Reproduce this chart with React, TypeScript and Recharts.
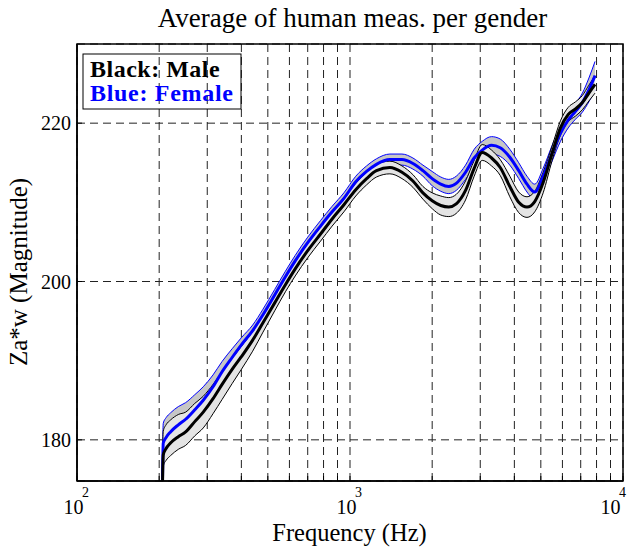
import React from 'react';
import { ComposedChart, Line, Area, XAxis, YAxis, CartesianGrid, ReferenceArea } from 'recharts';

const FONT = '"Liberation Serif", "Times New Roman", Times, serif';

// ---- data ----
const freqs = [205, 207, 212, 220, 235, 250, 270, 290, 315, 340, 370, 400, 440, 480, 530, 580, 630, 700, 780, 860, 950, 1050, 1150, 1250, 1400, 1550, 1700, 1850, 2000, 2150, 2300, 2450, 2650, 2850, 3050, 3300, 3550, 3850, 4150, 4450, 4750, 5100, 5500, 5900, 6300, 6700, 7100, 7500, 7900];

const maleMean = [171.0, 178.1, 178.9, 179.6, 180.4, 181.0, 182.3, 183.5, 185.2, 187.0, 188.9, 190.5, 192.6, 194.8, 197.3, 199.6, 201.6, 203.9, 206.0, 207.9, 209.7, 211.6, 213.0, 214.0, 214.4, 213.8, 212.7, 211.2, 210.2, 209.6, 209.4, 209.8, 211.5, 214.3, 216.3, 215.6, 214.4, 212.0, 210.0, 209.4, 210.1, 212.5, 216.2, 219.4, 221.1, 221.8, 222.6, 223.8, 224.9];
const maleLow = [169.5, 176.7, 177.4, 178.0, 178.8, 179.3, 180.5, 181.5, 183.3, 185.1, 187.1, 188.9, 191.2, 193.6, 196.3, 198.7, 200.7, 203.0, 205.1, 207.0, 208.8, 210.8, 212.2, 213.2, 213.6, 213.0, 211.9, 210.4, 209.2, 208.4, 208.2, 208.6, 210.3, 213.3, 215.3, 214.6, 213.4, 210.7, 208.7, 208.1, 208.8, 211.2, 215.3, 218.5, 220.2, 220.9, 221.7, 222.8, 223.8];
const maleHigh = [174.0, 181.1, 181.9, 182.5, 183.2, 183.5, 184.6, 185.5, 187.0, 188.6, 190.3, 191.8, 193.7, 195.8, 198.2, 200.5, 202.5, 204.8, 206.9, 208.8, 210.6, 212.4, 213.8, 214.8, 215.2, 214.6, 213.5, 212.0, 211.2, 210.8, 210.6, 211.0, 212.7, 215.3, 217.3, 216.6, 215.4, 213.3, 211.3, 210.7, 211.4, 213.8, 217.1, 220.3, 222.0, 222.7, 223.5, 224.8, 226.0];

const femaleMean = [171.0, 179.6, 180.3, 181.0, 181.9, 182.6, 183.8, 185.0, 186.7, 188.6, 190.4, 192.0, 193.8, 195.8, 198.3, 200.6, 202.6, 204.9, 207.0, 208.8, 210.5, 212.6, 213.9, 214.8, 215.4, 215.4, 214.9, 214.0, 213.0, 212.3, 212.0, 212.4, 213.8, 215.6, 216.6, 217.2, 216.9, 215.7, 214.0, 212.3, 211.3, 213.3, 216.2, 218.7, 220.4, 221.5, 222.6, 224.2, 226.0];
const femaleLow = [169.5, 178.1, 178.8, 179.5, 180.5, 181.3, 182.6, 183.9, 185.7, 187.7, 189.6, 191.2, 193.1, 195.1, 197.6, 199.9, 201.9, 204.2, 206.3, 208.1, 209.8, 211.9, 213.2, 214.1, 214.7, 214.7, 214.2, 213.3, 212.1, 211.4, 211.1, 211.5, 212.9, 214.5, 215.5, 216.1, 215.8, 214.7, 213.0, 211.3, 210.3, 212.3, 215.2, 217.7, 219.4, 220.5, 221.4, 222.7, 224.2];
const femaleHigh = [173.5, 182.1, 182.8, 183.4, 184.2, 184.7, 185.7, 186.7, 188.2, 189.9, 191.5, 192.9, 194.5, 196.5, 199.0, 201.3, 203.3, 205.6, 207.7, 209.5, 211.2, 213.3, 214.6, 215.5, 216.1, 216.1, 215.6, 214.7, 213.9, 213.2, 212.9, 213.3, 214.7, 216.7, 217.7, 218.3, 218.0, 216.7, 215.0, 213.3, 212.3, 214.3, 217.2, 219.7, 221.4, 222.5, 223.8, 225.7, 227.8];

const xGridTicks = [100, 200, 300, 400, 500, 600, 700, 800, 900, 1000, 2000, 3000, 4000, 5000, 6000, 7000, 8000, 9000, 10000];
const decadeTicks = [100, 1000, 10000];
const decadeBase = '10';
const decadeExponents = ['2', '3', '4'];
const decadeLabelShift = [0, 0, -9];
const yTicks = [180, 200, 220];
const yDomain = [174.8, 230];
const xDomain = [100, 10000];

const title = 'Average of human meas. per gender';
const xLabel = 'Frequency (Hz)';
const yLabel = 'Za*w (Magnitude)';
const legendMale = 'Black: Male';
const legendFemale = 'Blue: Female';

const data = freqs.map((f, i) => ({
  f,
  male: maleMean[i],
  maleBand: [maleLow[i], maleHigh[i]],
  female: femaleMean[i],
  femaleBand: [femaleLow[i], femaleHigh[i]],
}));

const W = 627;
const H = 542;

const XTick = (props: any) => {
  const { x, y, payload } = props;
  const idx = decadeTicks.indexOf(payload.value);
  const lx = idx >= 0 ? x + decadeLabelShift[idx] : x;
  return (
    <g>
      <line x1={x} x2={x} y1={y} y2={y - 5} stroke="#000" strokeWidth={1} />
      {idx >= 0 && (
        <g>
          <text x={lx - 3.5} y={y + 33} textAnchor="middle" fontFamily={FONT} fontSize={20} fill="#000">
            {decadeBase}
          </text>
          <text x={lx + 8.5} y={y + 16} textAnchor="middle" fontFamily={FONT} fontSize={14} fill="#000">
            {decadeExponents[idx]}
          </text>
        </g>
      )}
    </g>
  );
};

const YTick = (props: any) => {
  const { x, y, payload } = props;
  return (
    <g>
      <line x1={x + 6} x2={x + 11} y1={y} y2={y} stroke="#000" strokeWidth={1} />
      <text x={x} y={y} dy="0.35em" textAnchor="end" fontFamily={FONT} fontSize={20} fill="#000">
        {payload.value}
      </text>
    </g>
  );
};

export default function App() {
  return (
    <div style={{ position: 'relative', width: W, height: H, background: '#fff', fontFamily: FONT }}>
      <style>{`.recharts-surface { overflow: visible; } .recharts-wrapper { overflow: visible; }`}</style>
      <ComposedChart width={W} height={H} data={data} margin={{ top: 36, right: 12, bottom: 0, left: 0 }}>
        <CartesianGrid stroke="#222" strokeDasharray="8 5" strokeWidth={1} />
        <XAxis
          dataKey="f"
          type="number"
          scale="log"
          domain={xDomain}
          ticks={xGridTicks}
          interval={0}
          allowDataOverflow
          height={69}
          tickSize={0}
          tickMargin={0}
          tickLine={false}
          axisLine={{ stroke: '#000', strokeWidth: 1.5 }}
          tick={<XTick />}
        />
        <YAxis
          type="number"
          domain={yDomain}
          ticks={yTicks}
          interval={0}
          allowDataOverflow
          width={69}
          tickSize={0}
          tickMargin={6}
          tickLine={false}
          axisLine={{ stroke: '#000', strokeWidth: 1.5 }}
          tick={<YTick />}
        />
        <Area
          dataKey="femaleBand"
          type="monotoneX"
          fill="#c6c6c6"
          fillOpacity={1}
          stroke="#0000ff"
          strokeWidth={1}
          dot={false}
          activeDot={false}
          isAnimationActive={false}
        />
        <Area
          dataKey="maleBand"
          type="monotoneX"
          fill="#e4e4e4"
          fillOpacity={1}
          stroke="#000"
          strokeWidth={1}
          dot={false}
          activeDot={false}
          isAnimationActive={false}
        />
        <Line dataKey="female" type="monotoneX" stroke="#0000ff" strokeWidth={3} dot={false} activeDot={false} isAnimationActive={false} />
        <Line dataKey="male" type="monotoneX" stroke="#000" strokeWidth={3} dot={false} activeDot={false} isAnimationActive={false} />
        <ReferenceArea
          x1={xDomain[0]}
          x2={xDomain[1]}
          y1={yDomain[0]}
          y2={yDomain[1]}
          fill="none"
          stroke="#000"
          strokeWidth={1.5}
          ifOverflow="visible"
        />
      </ComposedChart>
      <svg width={W} height={H} style={{ position: 'absolute', left: 0, top: 0, pointerEvents: 'none', overflow: 'visible' }}>
        <text x={344.5} y={18.7} textAnchor="middle" fontFamily={FONT} fontSize={27} fill="#000">
          {title}
        </text>
        <text x={341.5} y={533} textAnchor="middle" fontFamily={FONT} fontSize={24.5} fill="#000">
          {xLabel}
        </text>
        <text
          transform="translate(19, 264) rotate(-90)"
          textAnchor="middle"
          fontFamily={FONT}
          fontSize={25}
          fill="#000"
        >
          {yLabel}
        </text>
        <rect x={75} y={46} width={158} height={55} fill="none" stroke="#000" strokeWidth={1} />
        <text x={82} y={68.7} fontFamily={FONT} fontSize={24} fontWeight="bold" letterSpacing={0.5} fill="#000">
          {legendMale}
        </text>
        <text x={82} y={92.7} fontFamily={FONT} fontSize={24} fontWeight="bold" letterSpacing={0.7} fill="#0000ff">
          {legendFemale}
        </text>
      </svg>
    </div>
  );
}
